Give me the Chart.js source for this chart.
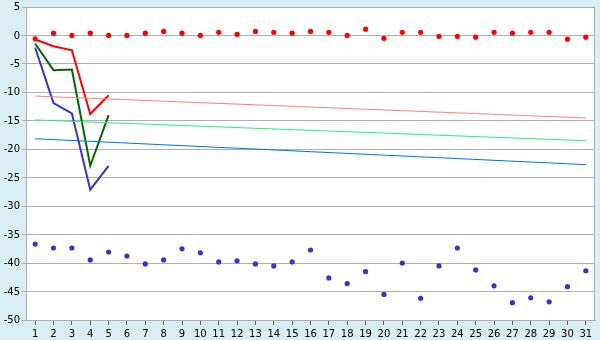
<!DOCTYPE html>
<html>
<head>
<meta charset="utf-8">
<script src="https://cdn.jsdelivr.net/npm/chart.js@4"></script>
<style>
  html, body { margin: 0; padding: 0; background: #daeef5; }
  #wrap { width: 600px; height: 340px; }
</style>
</head>
<body>
<div id="wrap"><canvas id="chart"></canvas></div>
<script>
// --- dados ---
const days = ['1','2','3','4','5','6','7','8','9','10','11','12','13','14','15','16','17','18','19','20','21','22','23','24','25','26','27','28','29','30','31'];

const redDots = [-0.6, 0.4, 0, 0.4, 0, 0, 0.4, 0.7, 0.4, 0, 0.55, 0.2, 0.7, 0.55, 0.4, 0.7, 0.55, 0, 1.1, -0.5,
                 0.55, 0.55, -0.15, -0.15, -0.3, 0.55, 0.4, 0.55, 0.55, -0.65, -0.3];
const blueDots = [-36.65, -37.35, -37.35, -39.45, -38.05, -38.75, -40.15, -39.45, -37.5, -38.2, -39.8, -39.6, -40.15, -40.5,
                  -39.8, -37.7, -42.6, -43.6, -41.5, -45.5, -40, -46.2, -40.5, -37.35, -41.2, -44, -46.95, -46.1, -46.8, -44.15, -41.35];

const redLine = [-0.7, -1.9, -2.6, -13.8, -10.5];
const greenLine = [-1.45, -6.1, -6.0, -22.9, -14.0];
const blueLine = [-2.15, -11.9, -13.7, -27.1, -22.9];

// tendências: valor no dia 1 e no dia 31
const trendPink = [-10.65, -14.5];
const trendGreen = [-14.85, -18.5];
const trendBlue = [-18.15, -22.7];

const yTicks = { min: -50, max: 5, step: 5 };

function trend(pair) {
    return [{ x: days[0], y: pair[0] }, { x: days[days.length - 1], y: pair[1] }];
}

// fundo branco e moldura da área do gráfico
const plotFrame = {
    id: 'plotFrame',
    beforeDraw(chart) {
        const { ctx, chartArea: a } = chart;
        ctx.save();
        ctx.fillStyle = '#ffffff';
        ctx.fillRect(a.left, a.top, a.right - a.left, a.bottom - a.top);
        ctx.restore();
    },
    afterDraw(chart) {
        const { ctx, chartArea: a } = chart;
        ctx.save();
        ctx.strokeStyle = '#b0b0b0';
        ctx.lineWidth = 1;
        ctx.strokeRect(a.left + 0.5, a.top + 0.5, a.right - a.left - 1, a.bottom - a.top);
        ctx.restore();
    }
};

const font = { family: 'DejaVu Sans', size: 10, lineHeight: 1 };

new Chart(document.getElementById('chart').getContext('2d'), {
    type: 'line',
    data: {
        labels: days,
        datasets: [
            { data: trend(trendPink), borderColor: '#ff8080', borderWidth: 1, pointRadius: 0 },
            { data: trend(trendGreen), borderColor: '#22f080', borderWidth: 1, pointRadius: 0 },
            { data: trend(trendBlue), borderColor: '#0070f0', borderWidth: 1, pointRadius: 0 },
            { data: redLine, borderColor: '#ff0000', borderWidth: 2, pointRadius: 0 },
            { data: greenLine, borderColor: '#006a00', borderWidth: 2, pointRadius: 0 },
            { data: blueLine, borderColor: '#3535c8', borderWidth: 2, pointRadius: 0 },
            { data: redDots, showLine: false, pointRadius: 2.6, pointBackgroundColor: '#ff0000', pointBorderWidth: 0 },
            { data: blueDots, showLine: false, pointRadius: 2.6, pointBackgroundColor: '#3535c8', pointBorderWidth: 0 }
        ]
    },
    options: {
        responsive: true, maintainAspectRatio: false, animation: false,
        layout: { padding: { top: 0, right: 5, left: 0, bottom: 0 } },
        elements: { line: { tension: 0 } },
        plugins: { legend: { display: false }, tooltip: { enabled: false } },
        scales: {
            x: {
                offset: true,
                grid: { drawOnChartArea: false, drawTicks: true, tickLength: 5, color: '#606060' },
                border: { color: '#b0b0b0' },
                ticks: { font: { family: 'DejaVu Sans', size: 10 }, color: '#000', padding: 3, maxRotation: 0, autoSkip: false },
                afterFit: (s) => { s.height = 20; }
            },
            y: {
                min: yTicks.min, max: yTicks.max,
                grid: { color: '#b0b0b0', tickLength: 4 },
                border: { color: '#b0b0b0' },
                ticks: { stepSize: yTicks.step, font: font, color: '#000', padding: 2, labelOffset: 0.5,
                         callback: (v) => String(v) },
                afterFit: (s) => { s.width = 26; }
            }
        }
    },
    plugins: [plotFrame]
});
</script>
</body>
</html>
